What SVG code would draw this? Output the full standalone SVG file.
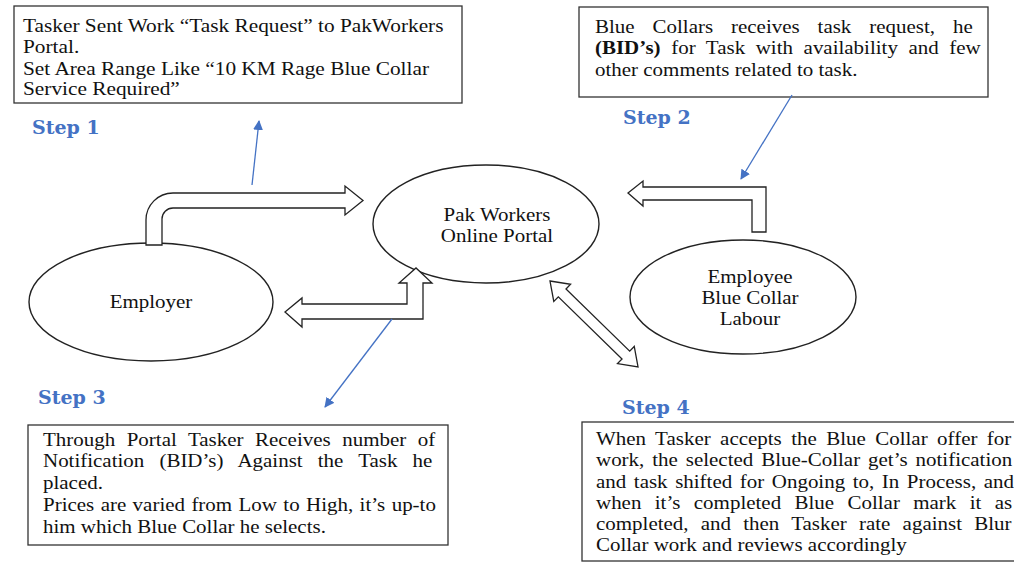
<svg xmlns="http://www.w3.org/2000/svg" width="1014" height="563" viewBox="0 0 1014 563">
<style>
.box{fill:#fff;stroke:#333;stroke-width:1.3}
.ell{fill:#fff;stroke:#222;stroke-width:1.4}
.blk{fill:#fff;stroke:#222;stroke-width:1.3;stroke-linejoin:miter}
.t{font-family:"Liberation Serif","Times New Roman",serif;font-size:18px;fill:#111}
.c{text-anchor:middle}
.step{font-family:"DejaVu Serif",serif;font-weight:bold;font-size:19px;fill:#4472C4}
.blue{stroke:#4472C4;stroke-width:1.3;fill:none}
</style>
<defs>
<marker id="ah" viewBox="0 0 10 10" refX="9" refY="5" markerWidth="10" markerHeight="10" markerUnits="userSpaceOnUse" orient="auto">
<path d="M0,0 L10,5 L0,10 Z" fill="#4472C4"/>
</marker>
</defs>
<rect width="1014" height="563" fill="#fff"/>

<g id="box1">
<rect class="box" x="14" y="6" width="448" height="97"/>
<g transform="translate(23,0) scale(1.185,1)">
<text class="t" x="0" y="32">Tasker Sent Work “Task Request” to PakWorkers</text>
<text class="t" x="0" y="53">Portal.</text>
<text class="t" x="0" y="75">Set Area Range Like “10 KM Rage Blue Collar</text>
<text class="t" x="0" y="95">Service Required”</text>
</g>
</g>

<g id="box2">
<rect class="box" x="579" y="7" width="409" height="90"/>
<g transform="translate(595,0) scale(1.165,1)">
<text class="t" x="0" y="33" word-spacing="10.9">Blue Collars receives task request, he</text>
<text class="t" x="0" y="54" word-spacing="4.6"><tspan font-weight="bold">(BID’s)</tspan> for Task with availability and few</text>
<text class="t" x="0" y="76">other comments related to task.</text>
</g>
</g>

<g id="box3">
<rect class="box" x="28" y="425" width="420" height="120"/>
<g transform="translate(43,0) scale(1.165,1)">
<text class="t" x="0" y="446" word-spacing="5.4">Through Portal Tasker Receives number of</text>
<text class="t" x="0" y="467" word-spacing="8.5">Notification (BID’s) Against the Task he</text>
<text class="t" x="0" y="489">placed.</text>
<text class="t" x="0" y="511" word-spacing="1">Prices are varied from Low to High, it’s up-to</text>
<text class="t" x="0" y="533">him which Blue Collar he selects.</text>
</g>
</g>

<g id="box4">
<rect class="box" x="582" y="422" width="440" height="139"/>
<g transform="translate(596,0) scale(1.165,1)">
<text class="t" x="0" y="445" word-spacing="3.6">When Tasker accepts the Blue Collar offer for</text>
<text class="t" x="0" y="466" word-spacing="2.3">work, the selected Blue-Collar get’s notification</text>
<text class="t" x="0" y="488" word-spacing="2">and task shifted for Ongoing to, In Process, and</text>
<text class="t" x="0" y="509" word-spacing="7">when it’s completed Blue Collar mark it as</text>
<text class="t" x="0" y="530" word-spacing="6">completed, and then Tasker rate against Blur</text>
<text class="t" x="0" y="551">Collar work and reviews accordingly</text>
</g>
</g>

<g id="steps">
<text class="step" x="32" y="134">Step 1</text>
<text class="step" x="623" y="124">Step 2</text>
<text class="step" x="38" y="404">Step 3</text>
<text class="step" x="622" y="414">Step 4</text>
</g>

<g id="portal">
<ellipse class="ell" cx="486" cy="224" rx="113" ry="59"/>
<g transform="translate(497,0) scale(1.165,1)">
<text class="t c" x="0" y="221">Pak Workers</text>
<text class="t c" x="0" y="242">Online Portal</text>
</g>
</g>

<g id="employer">
<ellipse class="ell" cx="151" cy="302" rx="122" ry="59"/>
<g transform="translate(151,0) scale(1.165,1)">
<text class="t c" x="0" y="308">Employer</text>
</g>
</g>

<g id="employee">
<ellipse class="ell" cx="743" cy="297" rx="113" ry="57"/>
<g transform="translate(750,0) scale(1.165,1)">
<text class="t c" x="0" y="283">Employee</text>
<text class="t c" x="0" y="304">Blue Collar</text>
<text class="t c" x="0" y="325">Labour</text>
</g>
</g>

<g id="connectors">
<path class="blk" d="M146,245 V220 A27,27 0 0 1 173,193 H345 V186 L363,200.5 L345,215 V208 H173 A11,11 0 0 0 162,219 V245 Z"/>
<path class="blk" d="M285,312 L302,298 V304 H407 V283 H399 L416,268 L432,283 H423 V319 H302 V327 Z"/>
<path class="blk" d="M628,193 L643,181 V187 H766 V232 H752 V200 H643 V206 Z"/>
<path class="blk" transform="translate(550,281) rotate(44.3)" d="M0,0 L17,-12 L17,-5.5 L106,-5.5 L106,-12 L123,0 L106,12 L106,5.5 L17,5.5 L17,12 Z"/>
<line class="blue" x1="252" y1="185" x2="259" y2="121" marker-end="url(#ah)"/>
<line class="blue" x1="792" y1="95" x2="741" y2="179" marker-end="url(#ah)"/>
<line class="blue" x1="392" y1="319" x2="325" y2="407" marker-end="url(#ah)"/>
</g>
</svg>
